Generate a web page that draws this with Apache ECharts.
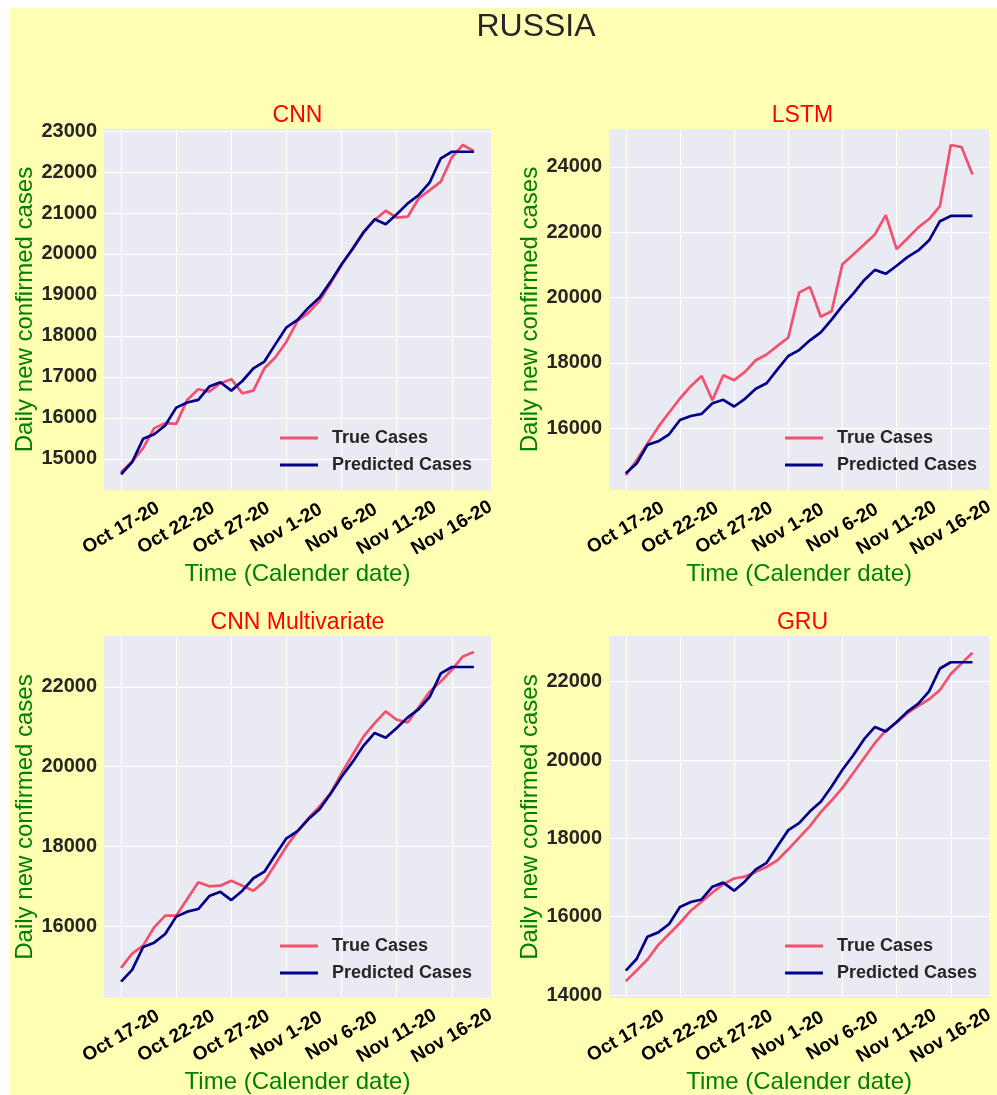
<!DOCTYPE html>
<html>
<head>
<meta charset="utf-8">
<script src="https://cdn.jsdelivr.net/npm/echarts@6/dist/echarts.min.js"></script>
<style>
  html, body { margin: 0; padding: 0; background: #fff; }
  /* yellow figure face, with the thin white margin on top and left */
  #chart {
    width: 997px; height: 1095px;
    background: linear-gradient(#ffffb4, #ffffb4) 10px 8px / 987px 1087px no-repeat, #fff;
  }
</style>
</head>
<body>
<div id="chart"></div>
<script>
// dates on the x axis (one per day)
const dates = [
  'Oct 17-20', 'Oct 18-20', 'Oct 19-20', 'Oct 20-20', 'Oct 21-20', 'Oct 22-20', 'Oct 23-20',
  'Oct 24-20', 'Oct 25-20', 'Oct 26-20', 'Oct 27-20', 'Oct 28-20', 'Oct 29-20', 'Oct 30-20',
  'Oct 31-20', 'Nov 1-20', 'Nov 2-20', 'Nov 3-20', 'Nov 4-20', 'Nov 5-20', 'Nov 6-20',
  'Nov 7-20', 'Nov 8-20', 'Nov 9-20', 'Nov 10-20', 'Nov 11-20', 'Nov 12-20', 'Nov 13-20',
  'Nov 14-20', 'Nov 15-20', 'Nov 16-20', 'Nov 17-20', 'Nov 18-20'
];

// the blue "Predicted Cases" line is the same in all four panels
const predicted = [
  14625, 14920, 15490, 15600, 15815, 16250, 16375, 16440, 16765, 16870, 16665,
  16900, 17210, 17375, 17800, 18210, 18390, 18690, 18935, 19325, 19750, 20120,
  20530, 20845, 20725, 20970, 21235, 21440, 21750, 22335, 22495, 22495, 22495
];

const cnnTrue = [
  14675, 14935, 15260, 15750, 15870, 15855, 16440, 16700, 16640, 16845, 16945,
  16600, 16665, 17210, 17480, 17860, 18365, 18570, 18855, 19285, 19730, 20140,
  20545, 20830, 21055, 20885, 20910, 21360, 21560, 21765, 22360, 22660, 22510
];

const lstmTrue = [
  14560, 15020, 15530, 16040, 16480, 16910, 17285, 17600, 16855, 17620, 17470,
  17725, 18080, 18255, 18520, 18775, 20150, 20325, 19410, 19580, 21020, 21315,
  21620, 21930, 22520, 21480, 21805, 22145, 22400, 22795, 24665, 24600, 23765
];

const cnnMultiTrue = [
  14967, 15325, 15525, 15983, 16275, 16275, 16692, 17108, 17008, 17025, 17150,
  17025, 16900, 17133, 17567, 18008, 18383, 18717, 19008, 19342, 19842, 20300,
  20758, 21092, 21383, 21175, 21108, 21492, 21883, 22133, 22425, 22758, 22867
];

const gruTrue = [
  14356, 14627, 14907, 15280, 15560, 15839, 16153, 16381, 16619, 16830, 16975,
  17025, 17144, 17271, 17441, 17720, 18017, 18314, 18669, 18966, 19288, 19669,
  20051, 20432, 20754, 20958, 21195, 21381, 21551, 21788, 22195, 22466, 22737
];

const seriesNames = ['True Cases', 'Predicted Cases'];

const FONT = 'Liberation Sans, Arial, sans-serif';
const PINK = '#f2506e';
const NAVY = '#00008b';

const panels = [
  { title: 'CNN', truth: cnnTrue, left: 104, top: 129, height: 361, min: 14240, max: 23050, step: 1000 },
  { title: 'LSTM', truth: lstmTrue, left: 609, top: 129, height: 361, min: 14110, max: 25155, step: 2000 },
  { title: 'CNN Multivariate', truth: cnnMultiTrue, left: 104, top: 636, height: 362, min: 14215, max: 23270, step: 2000 },
  { title: 'GRU', truth: gruTrue, left: 609, top: 636, height: 362, min: 13925, max: 23165, step: 2000 }
];
const WIDTH = 387;

const toPoints = (values) => values.map((v, i) => [i, v]);

const option = {
  animation: false,
  textStyle: { fontFamily: FONT },
  title: [
    { text: 'RUSSIA', left: 536, top: 11, textAlign: 'center', padding: 0,
      textStyle: { fontSize: 32, fontWeight: 'normal', color: '#262626', fontFamily: FONT } }
  ],
  grid: [], xAxis: [], yAxis: [], series: [], legend: []
};

panels.forEach((p, k) => {
  option.title.push({
    text: p.title, left: p.left + WIDTH / 2, top: p.top - 25, textAlign: 'center', padding: 0,
    textStyle: { fontSize: 23, fontWeight: 'normal', color: '#ff0000', fontFamily: FONT }
  });

  option.grid.push({
    left: p.left, top: p.top, width: WIDTH, height: p.height,
    show: true, backgroundColor: '#eaeaf2', borderWidth: 0
  });

  option.xAxis.push({
    type: 'value', gridIndex: k, min: -1.55, max: 33.55,
    minInterval: 5, maxInterval: 5,
    name: 'Time (Calender date)', nameLocation: 'middle', nameGap: 72,
    nameTextStyle: { fontSize: 24, color: '#008000', fontFamily: FONT },
    axisLine: { show: false }, axisTick: { show: false },
    splitLine: { show: true, showMinLine: false, showMaxLine: false, lineStyle: { color: '#ffffff', width: 1 } },
    axisLabel: {
      rotate: 30, margin: 38, align: 'center', verticalAlign: 'middle',
      showMinLabel: false, showMaxLabel: false,
      fontSize: 19, fontWeight: 'bold', color: '#000', fontFamily: FONT,
      formatter: (v) => dates[v] || ''
    }
  });

  option.yAxis.push({
    type: 'value', gridIndex: k, min: p.min, max: p.max,
    minInterval: p.step, maxInterval: p.step,
    name: 'Daily new confirmed cases', nameLocation: 'middle', nameGap: 66,
    nameTextStyle: { fontSize: 24, color: '#008000', fontFamily: FONT },
    axisLine: { show: false }, axisTick: { show: false },
    splitLine: { show: true, showMinLine: false, showMaxLine: false, lineStyle: { color: '#ffffff', width: 1 } },
    axisLabel: {
      margin: 7, showMinLabel: false, showMaxLabel: false,
      fontSize: 20, fontWeight: 'bold', color: '#262626', fontFamily: FONT,
      formatter: (v) => String(v)
    }
  });

  option.series.push({
    name: seriesNames[0], type: 'line', xAxisIndex: k, yAxisIndex: k,
    data: toPoints(p.truth), showSymbol: false, symbol: 'none',
    lineStyle: { color: PINK, width: 2.7 }, itemStyle: { color: PINK }
  });
  option.series.push({
    name: seriesNames[1], type: 'line', xAxisIndex: k, yAxisIndex: k,
    data: toPoints(predicted), showSymbol: false, symbol: 'none',
    lineStyle: { color: NAVY, width: 2.7 }, itemStyle: { color: NAVY }
  });

  option.legend.push({
    data: seriesNames, orient: 'vertical', selectedMode: false,
    left: p.left + 176, top: p.top + p.height - 61, padding: 0,
    icon: 'rect', itemWidth: 38, itemHeight: 3, itemGap: 9,
    textStyle: { fontSize: 18, fontWeight: 'bold', color: '#262626', fontFamily: FONT,
      lineHeight: 18, padding: [0, 0, 0, 9] }
  });
});

const chart = echarts.init(document.getElementById('chart'), null, { renderer: 'canvas' });
chart.setOption(option);
</script>
</body>
</html>
